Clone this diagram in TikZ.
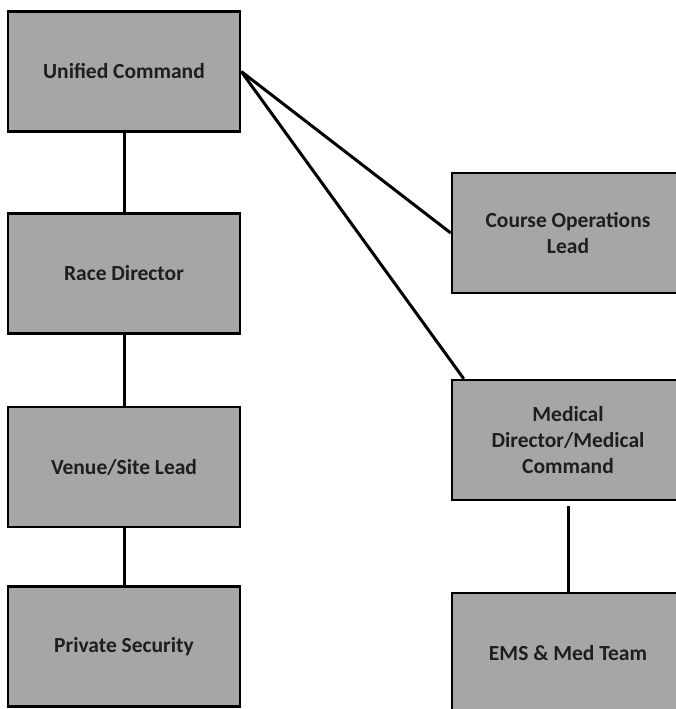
\documentclass[tikz,border=0pt]{standalone}
\usepackage{fontspec}
\setmainfont{Carlito}
\definecolor{boxgray}{HTML}{A6A6A6}
\definecolor{ink}{HTML}{1E1E1E}

\begin{document}
\begin{tikzpicture}
[x=1pt,y=-1pt,
role/.style={rectangle,draw=black,fill=boxgray,line width=2.5pt,
  minimum width=232pt,minimum height=120pt,align=center,text=ink,
  font=\fontsize{21.5}{26}\selectfont\bfseries},
link/.style={line width=3pt}]
\useasboundingbox (0,0) rectangle (676,709);
\clip (0,0) rectangle (676,709);
\node (uc) at (124,71.5) [role] {Unified Command};
\node (rd) at (124,273.5) [role] {Race Director};
\node (vl) at (124,467) [role] {Venue/Site Lead};
\node (ps) at (124,646.5) [role] {Private Security};
\node (co) at (568,233) [role] {Course Operations\\Lead};
\node (md) at (568,440) [role] {Medical\\Director/Medical\\Command};
\node (ems) at (568,653) [role] {EMS \& Med Team};
\draw[link] (uc) -- (rd);
\draw[link] (rd) -- (vl);
\draw[link] (vl) -- (ps);
\draw[link] (uc.east) -- (co.west);
\draw[link] (uc.east) -- ([xshift=13pt]md.north west);
\draw[link,shorten <=5pt] (md) -- (ems);
\end{tikzpicture}
\end{document}
